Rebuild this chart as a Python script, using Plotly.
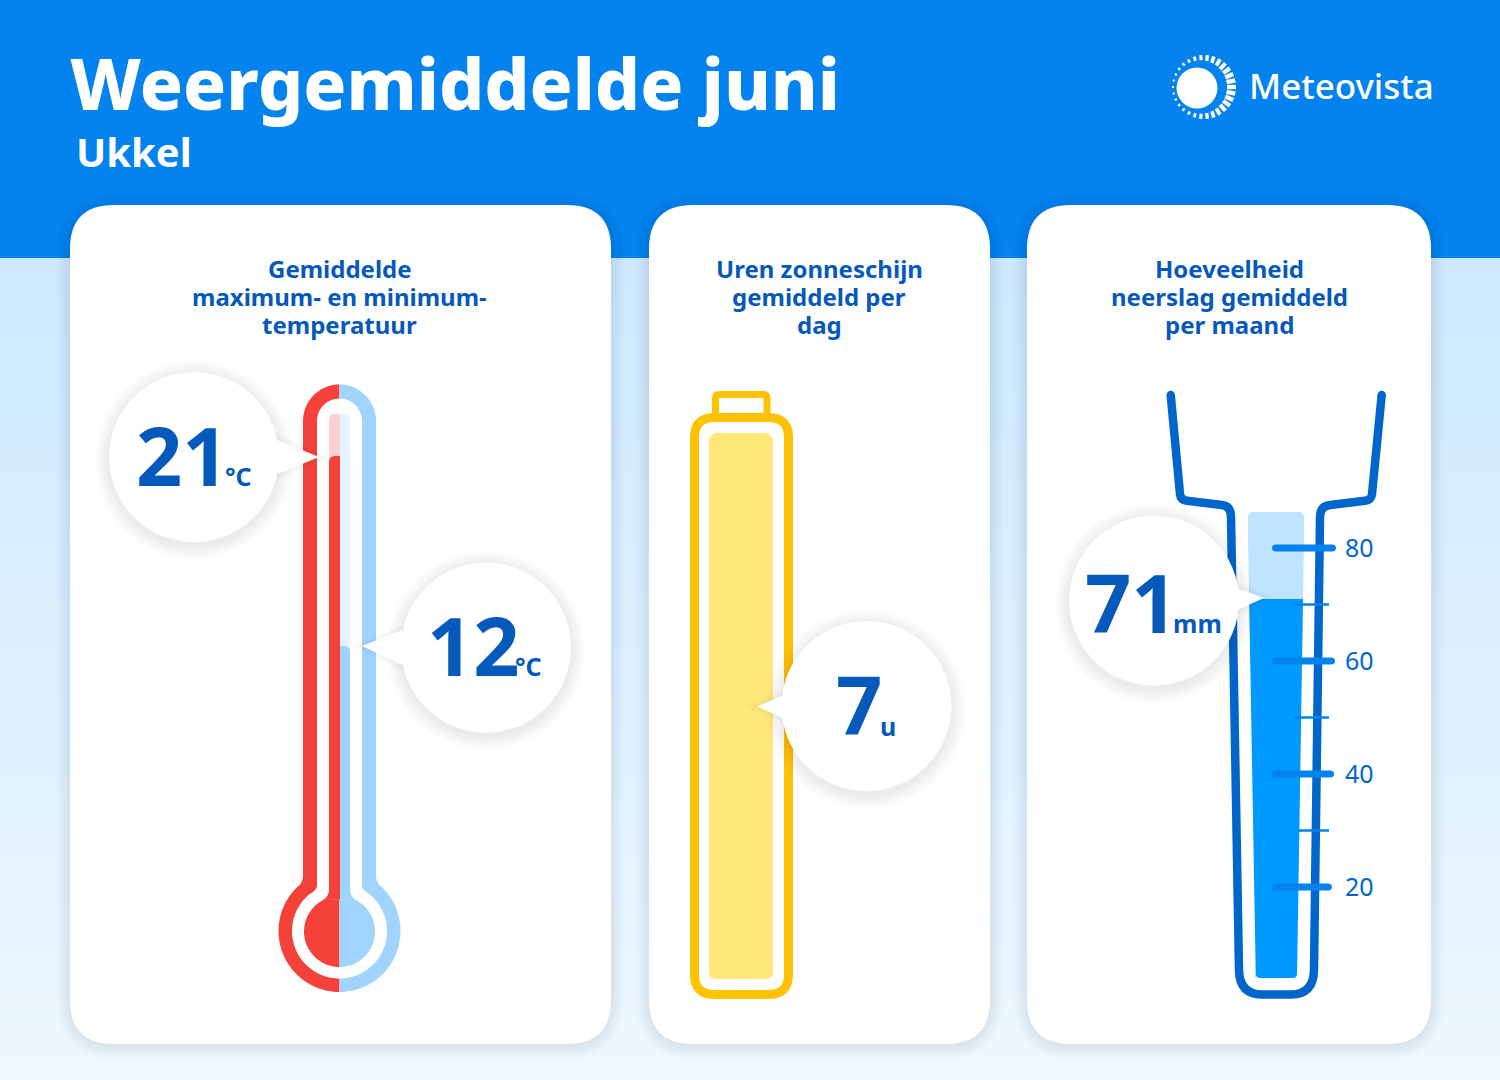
import numpy as np
import plotly.graph_objects as go

W, H = 1500, 1080
FONT = "Noto Sans"

# data
title = "Weergemiddelde juni"
location = "Ukkel"
brand = "Meteovista"

temp_cats = ["max", "min"]
temp_values = [21, 12]
temp_scale_top = [23, 23]

sun_cats = ["zon"]
sun_values = [7]
sun_scale_top = [14]

rain_cats = ["neerslag"]
rain_values = [71]
rain_scale_top = [86.5]
rain_ticks = [20, 40, 60, 80]
rain_tick_labels = ["20", "40", "60", "80"]
rain_minor_ticks = [30, 50, 70]

card_titles = [
    ["Gemiddelde", "maximum- en minimum-", "temperatuur"],
    ["Uren zonneschijn", "gemiddeld per", "dag"],
    ["Hoeveelheid", "neerslag gemiddeld", "per maand"],
]

BLUE = "#0482EE"
TEXT_BLUE = "#0559BA"
GLASS = "#0066CC"
RED = "#F44139"
PINK = "#FBD0CF"
SKY = "#A0D4FF"
PALE = "#E5F3FF"
AMBER = "#FFC200"
BUTTER = "#FFE77A"
RAIN = "#0099FF"
RAIN_LIGHT = "#BFE4FF"


def px(x, y):
    return f"{x / W:.5f},{1 - y / H:.5f}"


def poly(points, close=True):
    d = "M" + " L".join(px(x, y) for x, y in points)
    return d + (" Z" if close else "")


def rrect(x0, y0, x1, y1, r):
    return (f"M{px(x0 + r, y0)} L{px(x1 - r, y0)} Q{px(x1, y0)} {px(x1, y0 + r)} "
            f"L{px(x1, y1 - r)} Q{px(x1, y1)} {px(x1 - r, y1)} "
            f"L{px(x0 + r, y1)} Q{px(x0, y1)} {px(x0, y1 - r)} "
            f"L{px(x0, y0 + r)} Q{px(x0, y0)} {px(x0 + r, y0)} Z")


def arc(cx, cy, r, a0, a1, n=40):
    # angles in degrees, 0 = right, 90 = down on screen
    a = np.radians(np.linspace(a0, a1, n))
    return list(zip(cx + r * np.cos(a), cy + r * np.sin(a)))


def bend(p0, c, p1, n=10):
    t = np.linspace(0, 1, n)
    return [((1 - s) ** 2 * p0[0] + 2 * s * (1 - s) * c[0] + s ** 2 * p1[0],
             (1 - s) ** 2 * p0[1] + 2 * s * (1 - s) * c[1] + s ** 2 * p1[1]) for s in t]


def mirror(points, cx=339.5):
    return [(2 * cx - x, y) for x, y in points]


shapes = []


def add_path(d, fill=None, line=None, width=0, layer="below"):
    shapes.append(dict(type="path", path=d, xref="paper", yref="paper", layer=layer,
                       fillcolor=fill or "rgba(0,0,0,0)",
                       line=dict(color=line or "rgba(0,0,0,0)", width=width)))


def add_circle(cx, cy, r, fill, line=None, width=0, layer="above"):
    shapes.append(dict(type="circle", xref="paper", yref="paper", layer=layer,
                       x0=(cx - r) / W, x1=(cx + r) / W,
                       y0=1 - (cy + r) / H, y1=1 - (cy - r) / H,
                       fillcolor=fill, line=dict(color=line or "rgba(0,0,0,0)", width=width)))


def corner(x, y, r, sx, sy, color, layer="above"):
    # masks a square corner so it looks rounded, sx/sy point out of the bar
    d = (f"M{px(x, y)} L{px(x - sx * r, y)} Q{px(x, y)} {px(x, y - sy * r)} Z")
    add_path(d, fill=color, layer=layer)


# background
shapes.append(dict(type="rect", xref="paper", yref="paper", layer="below", x0=0, x1=1,
                   y0=1 - 258 / H, y1=1, fillcolor=BLUE, line=dict(width=0)))
c_top = np.array([205, 232, 255])
c_bot = np.array([238, 248, 255])
for y in range(258, H, 10):
    t = (y - 258) / (H - 258)
    c = c_top + (c_bot - c_top) * t
    shapes.append(dict(type="rect", xref="paper", yref="paper", layer="below", x0=0, x1=1,
                       y0=1 - min(y + 11, H) / H, y1=1 - y / H,
                       fillcolor=f"rgb({c[0]:.0f},{c[1]:.0f},{c[2]:.0f})", line=dict(width=0)))

# cards
for x0, x1 in [(70, 611), (649, 990), (1027, 1431)]:
    for w in range(3, 30, 3):
        add_path(rrect(x0, 208, x1, 1046, 44), line="rgba(20,30,50,0.006)", width=w)
    add_path(rrect(x0, 205, x1, 1044, 44), fill="white")

# thermometer, drawn as a red half and a blue half
left_outer = (arc(339.5, 421, 36.5, 270, 180, 24) + bend((303, 875), (303, 881), (299, 886))
              + arc(339.5, 931, 61, 228, 90, 50))
add_path(poly(left_outer), fill=RED)
add_path(poly(mirror(left_outer)), fill=SKY)
left_gap = (arc(339.5, 421, 22.5, 270, 180, 16) + bend((317, 885), (317, 890), (310, 894))
            + arc(339.5, 931, 47.5, 231, 90, 40))
add_path(poly(left_gap + mirror(left_gap)[::-1]), fill="white")
left_core = ([(339.5, 885), (329, 885)] + bend((329, 890), (329, 897), (320, 902))
             + arc(339.5, 931.5, 35.5, 237, 90, 50))
add_path(poly(left_core), fill=RED)
add_path(poly(mirror(left_core)), fill=SKY)

# bottle
bottle = rrect(694.5, 417.5, 788.5, 994.5, 20)
add_path(rrect(715.5, 394.5, 767, 420, 4), line=AMBER, width=7)
add_path(bottle, fill="white", line=AMBER, width=9)

# logo
add_circle(1197, 88, 20.5, "white", layer="below")
for a in range(-84, 276, 12):
    # dashes get thicker and longer towards the right of the ring
    k = (np.cos(np.radians(a)) + 1) / 2
    r1 = 32
    r0 = r1 - (2 + 7 * k)
    ca, sa = np.cos(np.radians(a)), np.sin(np.radians(a))
    shapes.append(dict(type="line", xref="paper", yref="paper", layer="below",
                       x0=(1204 + r0 * ca) / W, x1=(1204 + r1 * ca) / W,
                       y0=1 - (87 + r0 * sa) / H, y1=1 - (87 + r1 * sa) / H,
                       line=dict(color="white", width=2 + 2.4 * k)))

fig = go.Figure()

# temperature bars
fig.add_trace(go.Bar(x=temp_cats, y=temp_scale_top, marker=dict(color=[PINK, PALE], line=dict(width=0)),
                     xaxis="x", yaxis="y", showlegend=False, hoverinfo="skip"))
fig.add_trace(go.Bar(x=temp_cats, y=temp_values, marker=dict(color=[RED, SKY], line=dict(width=0)),
                     xaxis="x", yaxis="y", showlegend=False))
# sunshine bars
fig.add_trace(go.Bar(x=sun_cats, y=sun_scale_top, marker=dict(color=BUTTER, line=dict(width=0), cornerradius=8),
                     xaxis="x2", yaxis="y2", showlegend=False, hoverinfo="skip"))
fig.add_trace(go.Bar(x=sun_cats, y=sun_values, marker=dict(color=BUTTER, line=dict(width=0)),
                     xaxis="x2", yaxis="y2", showlegend=False))
# rain bars
fig.add_trace(go.Bar(x=rain_cats, y=rain_scale_top, marker=dict(color=RAIN_LIGHT, line=dict(width=0), cornerradius=7),
                     xaxis="x3", yaxis="y3", showlegend=False, hoverinfo="skip"))
fig.add_trace(go.Bar(x=rain_cats, y=rain_values, marker=dict(color=RAIN, line=dict(width=0)),
                     xaxis="x3", yaxis="y3", showlegend=False))

# rounded corners on the thermometer bars
T_Y0, T_K = 899.3, 21.11
t_top = T_Y0 - temp_scale_top[0] * T_K
corner(329, t_top, 6, -1, -1, "white")
corner(350, t_top, 6, 1, -1, "white")
corner(329, T_Y0 - temp_values[0] * T_K, 6, -1, -1, PINK)
corner(350, T_Y0 - temp_values[1] * T_K, 6, 1, -1, PALE)

# bottom corners of the sunshine bar
corner(709, 979, 7, -1, 1, "white")
corner(773, 979, 7, 1, 1, "white")

# the rain glass narrows downward, white wedges cut the bar to that shape
add_path(poly([(1246, 505), (1247.6, 505), (1247.6, 513), (1255.8, 978), (1246, 978)]), fill="white", layer="above")
add_path(poly([(1306, 505), (1304.4, 505), (1304.4, 513), (1297, 978), (1306, 978)]), fill="white", layer="above")
add_path(poly([(1246, 978), (1306, 978), (1306, 1002), (1246, 1002)]), fill="white", layer="above")
corner(1256, 978, 4, -1, 1, "white")
corner(1297, 978, 4, 1, 1, "white")

# glass outline
glass = (f"M{px(1170.7, 395)} L{px(1180, 494)} Q{px(1180.5, 500)} {px(1187, 500.8)} "
         f"L{px(1222, 505)} Q{px(1231, 506)} {px(1231, 517)} "
         f"L{px(1239, 970)} Q{px(1239.5, 994.5)} {px(1262, 994.5)} "
         f"L{px(1291, 994.5)} Q{px(1313.5, 994.5)} {px(1314, 970)} "
         f"L{px(1320, 517)} Q{px(1320, 506)} {px(1330, 505)} "
         f"L{px(1365, 500.8)} Q{px(1371.5, 500)} {px(1372, 494)} "
         f"L{px(1381.7, 395)}")
add_path(glass, line=GLASS, width=8.5, layer="above")
add_circle(1170.7, 395, 4.2, GLASS)
add_circle(1381.7, 395, 4.2, GLASS)


def tick_pill(value, x0, x1, half):
    # half is the half height in mm on the rain axis
    return dict(type="path", xref="paper", yref="y3", layer="above", fillcolor="#0482EE",
                line=dict(width=0),
                path=(f"M{x0 / W:.5f},{value + half} L{x1 / W:.5f},{value + half} "
                      f"Q{(x1 + 4) / W:.5f},{value + half} {(x1 + 4) / W:.5f},{value} "
                      f"Q{(x1 + 4) / W:.5f},{value - half} {x1 / W:.5f},{value - half} "
                      f"L{x0 / W:.5f},{value - half} "
                      f"Q{(x0 - 4) / W:.5f},{value - half} {(x0 - 4) / W:.5f},{value} "
                      f"Q{(x0 - 4) / W:.5f},{value + half} {x0 / W:.5f},{value + half} Z"))


tick_ends = [1328, 1330, 1331, 1332]
for v, xe in zip(rain_ticks, tick_ends):
    shapes.append(tick_pill(v, 1276, xe, 0.62))
minor_starts = [1298, 1294, 1293]
for v, xs in zip(rain_minor_ticks, minor_starts):
    shapes.append(dict(type="line", xref="paper", yref="y3", layer="above",
                       x0=xs / W, x1=1329 / W, y0=v, y1=v, line=dict(color="#0482EE", width=2.5)))

# callouts
callouts = [
    (194, 457, [(278, 440), (319, 457), (278, 474)]),
    (486, 647.5, [(402, 630), (362, 646), (402, 665)]),
    (866.5, 706, [(783, 695), (757, 706.5), (783, 718)]),
    (1154, 600.5, [(1237, 588), (1264, 598), (1237, 610)]),
]
for cx, cy, tri in callouts:
    for w in range(3, 33, 3):
        add_circle(cx, cy + 3, 85, "rgba(0,0,0,0)", line="rgba(0,0,0,0.006)", width=w)
    for w in range(2, 12, 3):
        add_path(poly(tri), fill="rgba(0,0,0,0.008)", line="rgba(0,0,0,0.01)", width=w, layer="above")
for cx, cy, tri in callouts:
    add_path(poly(tri), fill="white", layer="above")
    add_circle(cx, cy, 85, "white")

# texts
notes = []


def txt(x, y, text, size, color=TEXT_BLUE, weight=700, anchor="left"):
    notes.append(dict(x=x / W, y=1 - y / H, xref="paper", yref="paper", text=text, showarrow=False,
                      xanchor=anchor, yanchor="middle", align=anchor,
                      font=dict(family=FONT, size=size, color=color, weight=weight)))


txt(68, 83, title, 71.2, "white", 800)
txt(74, 151, location, 40, "white", 700)
txt(1247, 86, brand, 35, "white", 500)

for cx, lines in zip([339.5, 819, 1229], card_titles):
    for i, line in enumerate(lines):
        txt(cx, 268.5 + i * 28, line, 24, TEXT_BLUE, 700, "center")

txt(134, 454, str(temp_values[0]), 81)
txt(223, 476, "°C", 25)
txt(425, 644, str(temp_values[1]), 81)
txt(513, 666, "°C", 25)
txt(834, 703, str(sun_values[0]), 81)
txt(878, 726, "u", 25)
txt(1083, 601, str(rain_values[0]), 81)
txt(1171, 623, "mm", 25)

hidden = dict(visible=False, fixedrange=True)
fig.update_layout(
    width=W, height=H,
    margin=dict(l=0, r=0, t=0, b=0),
    paper_bgcolor="white", plot_bgcolor="rgba(0,0,0,0)",
    barmode="overlay", bargap=0,
    shapes=shapes, annotations=notes,
    showlegend=False,
    xaxis=dict(domain=[329 / W, 350 / W], range=[-0.5, 1.5], type="category", anchor="y", **hidden),
    yaxis=dict(domain=[1 - T_Y0 / H, 1 - t_top / H], range=[0, temp_scale_top[0]], anchor="x", **hidden),
    xaxis2=dict(domain=[709 / W, 773 / W], type="category", anchor="y2", **hidden),
    yaxis2=dict(domain=[1 - 979 / H, 1 - 433 / H], range=[0, sun_scale_top[0]], anchor="x2", **hidden),
    xaxis3=dict(domain=[1247.6 / W, 1304.4 / W], type="category", anchor="y3", **hidden),
    yaxis3=dict(domain=[1 - 1000 / H, 1 - 491.5 / H], range=[0, 90], anchor="free", side="right",
                position=1344 / W, tickmode="array", tickvals=rain_ticks, ticktext=rain_tick_labels,
                tickfont=dict(family=FONT, size=25, color=GLASS), ticks="", showline=False,
                showgrid=False, zeroline=False, fixedrange=True),
)

fig.write_html("out.html", config=dict(displayModeBar=False),
               post_script="document.body.style.margin='0';")
